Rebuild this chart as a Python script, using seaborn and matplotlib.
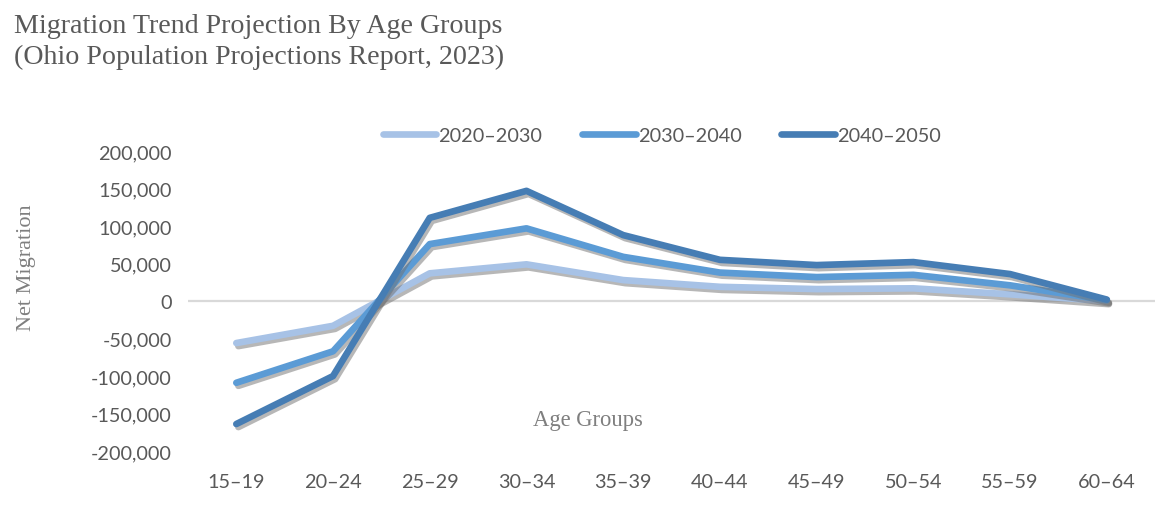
import numpy as np
import pandas as pd
import matplotlib
matplotlib.use('Agg')
import matplotlib.pyplot as plt
import matplotlib.patheffects as pe
from matplotlib.ticker import FuncFormatter
import seaborn as sns

age_groups = ['15–19', '20–24', '25–29', '30–34', '35–39',
              '40–44', '45–49', '50–54', '55–59', '60–64']
mig_2020_2030 = [-56000, -33000, 37000, 49000, 28000, 19000, 16000, 17000, 9000, 0]
mig_2030_2040 = [-109000, -67000, 76000, 97000, 59000, 38000, 32000, 35000, 21000, 1000]
mig_2040_2050 = [-164000, -100000, 111000, 147000, 88000, 55000, 48000, 52000, 36000, 2000]
periods = ['2020–2030', '2030–2040', '2040–2050']
colors = ['#a7c2e6', '#5b9bd5', '#467db4']

df = pd.DataFrame({'age': age_groups * 3,
                   'x': list(range(len(age_groups))) * 3,
                   'value': mig_2020_2030 + mig_2030_2040 + mig_2040_2050,
                   'period': [p for p in periods for _ in age_groups]})

sns.set_style('white')
plt.rcParams['font.family'] = ['Lato', 'DejaVu Sans']

fig = plt.figure(figsize=(11.71, 5.10), dpi=100)
ax = fig.add_axes([0.1605, 0.1137, 0.826, 0.588])

# zero line
ax.axhline(0, color='#d9d9d9', lw=1.6, zorder=1)
sns.lineplot(data=df, x='x', y='value', hue='period', palette=colors,
             linewidth=4.8, ax=ax, legend=False, zorder=3)
for line in ax.get_lines()[1:]:
    line.set_solid_capstyle('round')
    line.set_path_effects([pe.SimpleLineShadow(offset=(1.5, -2.2), shadow_color='#707070', alpha=0.5),
                           pe.Normal()])

ax.set_xlim(-0.5, len(age_groups) - 0.5)
ax.set_ylim(-200000, 200000)
ax.set_yticks(np.arange(-200000, 200001, 50000))
ax.yaxis.set_major_formatter(FuncFormatter(lambda v, p: f'{int(v):,}'))
ax.set_xticks(range(len(age_groups)))
ax.set_xticklabels(age_groups)
ax.tick_params(axis='both', colors='#595959', labelsize=14.3, length=0)
ax.tick_params(axis='x', pad=16)
ax.tick_params(axis='y', pad=11.5)
for s in ax.spines.values():
    s.set_visible(False)
ax.set_xlabel('')
ax.set_ylabel('')

handles = [plt.Line2D([], [], color=c, lw=4.8, solid_capstyle='round') for c in colors]
fig.legend(handles, periods, loc='center', bbox_to_anchor=(0.565, 0.733), ncol=3,
           frameon=False, fontsize=14.3, handlelength=2.7, handletextpad=0.1,
           columnspacing=2.0, labelcolor='#595959')

fig.text(0.012, 0.972, 'Migration Trend Projection By Age Groups\n(Ohio Population Projections Report, 2023)',
         family='Liberation Serif', fontsize=20.2, color='#595959', va='top', linespacing=1.3)
fig.text(0.023, 0.475, 'Net Migration', family='Liberation Serif', fontsize=16,
         color='#7f7f7f', rotation=90, ha='center', va='center')
fig.text(0.502, 0.176, 'Age Groups', family='Liberation Serif', fontsize=16.3,
         color='#7f7f7f', ha='center', va='center')

fig.savefig('out.png', dpi=100)
